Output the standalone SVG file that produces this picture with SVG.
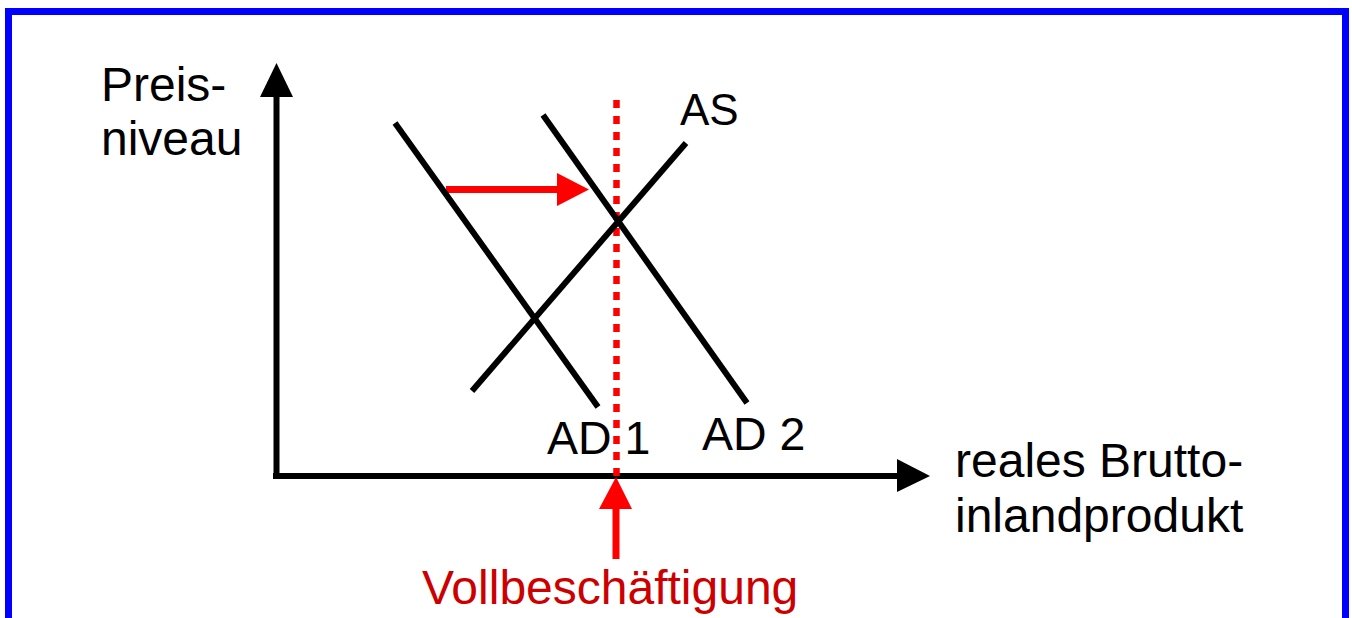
<svg xmlns="http://www.w3.org/2000/svg" width="1352" height="618" viewBox="0 0 1352 618">
  <style>
    .lbl { font-family: "Liberation Sans", Arial, sans-serif; font-size: 48px; fill: #000; }
    .curve { stroke: #000; stroke-width: 6; fill: none; }
    .axis { stroke: #000; stroke-width: 6; fill: none; }
    .red { stroke: #ff0000; stroke-width: 7; fill: none; }
  </style>
  <rect x="0" y="0" width="1352" height="618" fill="#ffffff"/>
  <rect id="frame" x="8.5" y="11.5" width="1337" height="700" fill="none" stroke="#0000ff" stroke-width="7"/>

  <g id="connectors">
    <g id="y-axis">
      <line class="axis" x1="276.5" y1="479" x2="276.5" y2="95"/>
      <polygon points="276.5,63 260,97 293,97" fill="#000"/>
    </g>
    <g id="x-axis">
      <line class="axis" x1="273" y1="476" x2="899" y2="476"/>
      <polygon points="930,476 897,459 897,492" fill="#000"/>
    </g>
    <g id="shift-arrow">
      <line class="red" x1="446" y1="189.5" x2="560" y2="189.5"/>
      <polygon points="589,189.5 557,173 557,206" fill="#ff0000"/>
    </g>
    <g id="fullemployment-arrow">
      <line class="red" x1="616" y1="505" x2="616" y2="559"/>
      <polygon points="616,477 599,509 632,509" fill="#ff0000"/>
    </g>
    <line id="fullemployment-line" x1="616.5" y1="100" x2="616.5" y2="478" stroke="#ff0000" stroke-width="6.5" stroke-dasharray="8 8"/>
  </g>

  <g id="AD1">
    <line class="curve" x1="395" y1="123" x2="598" y2="407"/>
    <text class="lbl" x="547" y="454" style="font-size:46.5px">AD 1</text>
  </g>
  <g id="AD2">
    <line class="curve" x1="543" y1="115" x2="747" y2="403"/>
    <text class="lbl" x="702" y="450" style="font-size:46.5px">AD 2</text>
  </g>
  <g id="AS">
    <line class="curve" x1="472" y1="391" x2="686" y2="143"/>
    <text class="lbl" x="680" y="125" style="font-size:44px">AS</text>
  </g>

  <g id="y-label">
    <text class="lbl" x="101" y="101">Preis-</text>
    <text class="lbl" x="101" y="155">niveau</text>
  </g>
  <g id="x-label">
    <text class="lbl" x="955" y="477">reales Brutto-</text>
    <text class="lbl" x="955" y="532">inlandprodukt</text>
  </g>
  <g id="fullemployment-label">
    <text class="lbl" x="422" y="604" style="fill:#cc0000">Vollbeschäftigung</text>
  </g>
</svg>
